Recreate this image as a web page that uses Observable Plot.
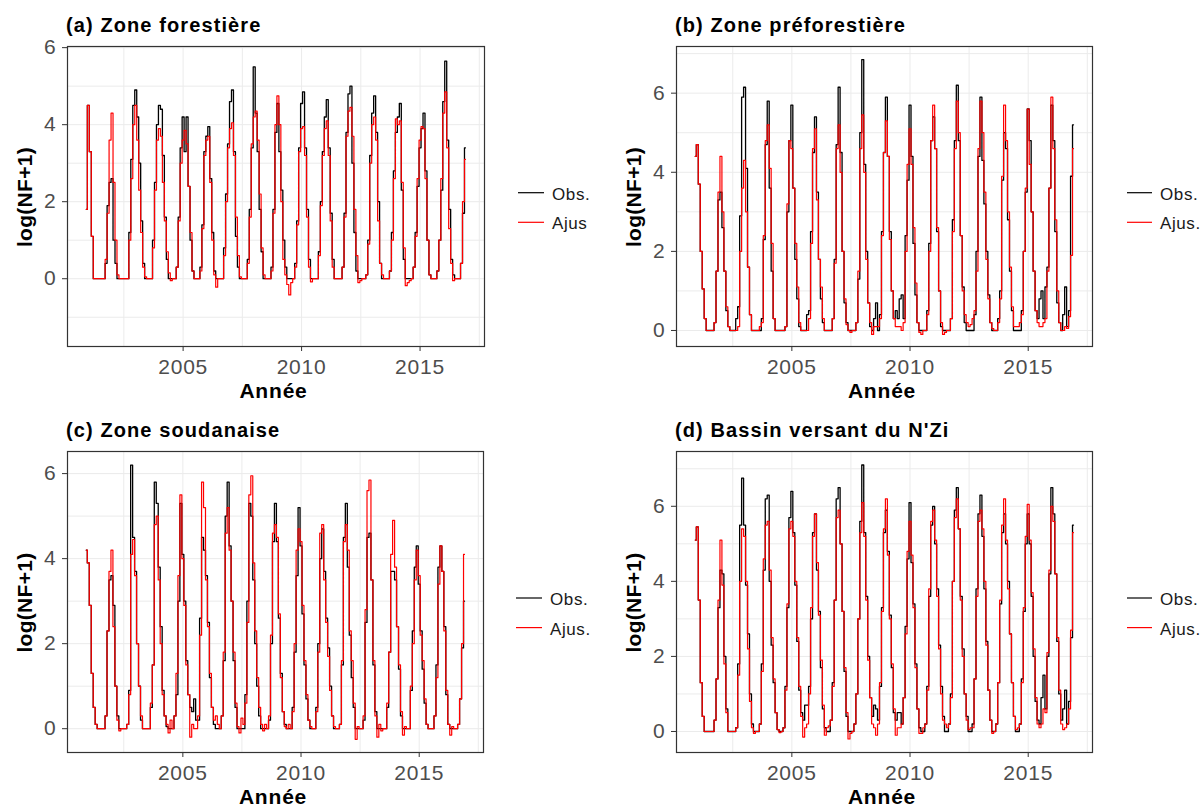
<!DOCTYPE html>
<html><head><meta charset="utf-8">
<script src="https://cdn.jsdelivr.net/npm/d3@7"></script>
<script src="https://cdn.jsdelivr.net/npm/@observablehq/plot@0.6"></script>
<style>
html,body{margin:0;padding:0;background:#fff;}
#root{position:relative;width:1201px;height:808px;overflow:hidden;font-family:"Liberation Sans",Arial,sans-serif;}
.panel{position:absolute;}
#overlay{position:absolute;left:0;top:0;pointer-events:none;}
.panel svg g[aria-label$="axis tick label"] text{letter-spacing:0.8px;}
</style></head><body><div id="root"></div>
<script>
// Monthly series, first value = December 2000, then Jan..Dec for 2001..2016
const startYear = 2000, startMonthIndex = 11;

const obsA = [
1.8,
4.5,3.3,1.1,0,0,0,0,0,0,0.4,1.9,2.5,
2.6,1.0,0.4,0,0,0,0,0,0,1.2,3.1,4.5,
4.9,4.2,3.0,1.5,0.4,0,0,0,0,1.0,2.5,4.0,
4.5,4.4,3.2,1.6,0.5,0,0,0,0,0.3,1.6,3.4,
4.2,3.3,4.2,2.4,1.0,0.2,0,0,0,0.3,1.4,3.3,
3.7,3.95,2.6,1.2,0.2,0,0,0,0,0.8,2.2,3.5,
4.6,4.9,3.3,1.1,0.3,0,0,0,0,0.5,1.8,3.4,
5.5,4.3,3.3,1.8,0.7,0,0,0,0,0.3,1.8,3.8,
4.55,3.3,2.3,1.0,0.3,0,0,0,0,0.4,1.5,3.4,
4.55,4.85,3.4,1.8,0.5,0,0,0,0,0.7,2.0,3.3,
4.2,4.65,3.4,1.7,0.5,0,0,0,0,0.3,1.7,3.8,
4.8,5.0,3.0,1.2,0.2,0,0,0,0,0.1,1.0,3.2,
4.3,4.75,3.8,2.0,0.4,0,0,0,0,0.2,1.2,2.8,
3.8,4.2,4.55,2.3,0.5,0,0,0,0,0.3,1.2,2.4,
3.4,3.9,4.3,2.8,1.0,0.1,0,0,0,0.2,1.0,2.3,
4.6,5.65,3.6,1.8,0.5,0.1,0,0,0,0.4,1.7,3.4
];
const fitA = [
1.8,
4.5,3.3,1.1,0,0,0,0,0,0,0.5,1.7,3.6,
4.3,2.5,1.0,0.1,0,0,0,0,0,1.0,2.6,4.0,
4.5,3.6,2.3,1.2,0.3,0.05,0,0,0,0.8,2.3,3.6,
3.9,3.7,2.5,1.5,0.7,0.15,-0.05,0,0,0.3,1.5,3.0,
3.6,3.85,3.5,2.4,1.2,0.2,0,0,0,0.2,1.3,3.2,
3.6,3.7,2.5,1.0,0.1,-0.22,0,0,0,0.6,2.0,3.4,
3.9,4.05,3.2,1.6,0.6,0.05,0,0,0,0.4,1.6,3.5,
4.2,4.35,3.6,2.2,0.8,0.1,0,0,0,0.2,1.7,4.0,
4.75,4.0,2.0,0.5,0.1,-0.15,-0.42,-0.1,0,0.3,1.4,3.3,
3.9,3.95,3.2,1.6,0.3,-0.08,0,0,0,0.6,1.9,3.2,
3.9,4.1,3.2,1.5,0.3,0,0,0,0,0.3,1.6,3.7,
4.35,4.45,3.7,1.8,0.6,-0.1,-0.05,0,0,0.1,0.9,3.0,
4.0,4.2,3.6,1.5,0.4,0.1,0,0,0,0.2,1.0,2.6,
4.15,4.0,4.1,2.5,0.8,-0.18,-0.1,-0.05,0,0.3,1.1,2.6,
3.6,3.95,3.9,2.6,1.0,0.1,0,0,0,0.2,1.0,2.6,
4.3,4.85,3.4,1.3,0.4,-0.05,0,0,0,0.4,2.0,3.1
];

const obsB = [
4.4,
4.7,3.7,2.0,1.05,0.3,0,0,0,0,0.2,1.5,3.3,
3.5,2.6,1.5,0.5,0.1,0,0,0,0.3,0.6,2.9,5.9,
6.15,4.1,1.6,0.4,0,0,0,0,0,0.3,2.3,4.7,
5.8,3.6,1.5,0.3,0,0,0,0,0,0.1,3.0,4.8,
5.7,3.6,1.8,0.8,0.1,0,0,0,0.4,0.5,2.5,4.5,
5.4,3.5,1.8,0.8,0.2,0,0,0,0,0.3,1.8,4.7,
6.15,4.5,2.0,0.7,0.2,0,0,0,0,0.2,1.3,5.0,
6.85,4.2,2.0,0.7,0.1,0,0.3,0.7,0,0.4,2.5,4.5,
5.9,4.4,2.5,1.0,0.3,0.5,0.3,0.8,0.9,0.3,2.4,3.8,
5.7,4.4,2.2,0.9,0.2,0,0,0,0,0.5,2.2,4.8,
5.4,4.6,2.5,1.0,0.1,0,0,0,0,0.3,2.8,4.8,
6.2,4.8,2.4,1.1,0.2,0,0,0,0,0.4,2.0,4.4,
5.9,4.3,3.2,2.0,0.9,0.2,0,0,0,0.3,1.0,3.8,
5.0,4.6,2.8,1.5,0.5,0,0,0,0,0.5,2.0,3.5,
5.6,4.8,3.0,1.5,0.5,0.3,0.8,1.0,0.3,1.1,1.6,3.6,
5.7,4.8,2.5,0.7,0.2,0,0.4,1.1,0.1,0.5,3.9,5.2
];
const fitB = [
4.4,
4.7,3.7,2.0,1.05,0.3,0,0,0,0,0.2,1.5,3.5,
4.4,3.0,1.5,0.6,0.1,0,0,0,0,0.1,2.0,3.6,
4.3,3.0,1.6,0.4,0,0,0,0,0.1,0.2,2.4,4.8,
5.2,4.1,2.2,0.3,0,0,0,0,0,0.1,3.2,4.8,
4.6,3.6,2.2,1.1,0.2,0,0,0,0,0.3,2.2,4.6,
5.1,3.3,1.8,1.1,0.3,0,0,0,0,0.3,1.7,4.6,
5.2,4.0,2.0,0.8,0.15,0,-0.05,0,0,0.2,1.5,4.6,
5.45,4.0,1.8,0.7,0.2,-0.1,0.1,0.1,0.1,0.3,2.4,4.5,
5.3,4.4,2.3,1.0,0.3,0.1,0.1,0.1,0,0.2,2.0,4.2,
5.1,4.2,2.6,1.2,0.2,-0.05,-0.1,0,0,0.4,2.0,4.8,
5.7,4.6,2.6,1.0,0.2,-0.1,-0.05,0,0,0.3,2.5,4.6,
5.8,5.0,2.4,1.0,0.4,0.2,0.1,0.15,0.3,0.5,1.5,4.6,
5.8,5.0,3.5,1.8,0.8,0.2,0.05,0,0,0.2,0.8,3.9,
5.7,4.8,3.0,1.6,0.6,0.1,0.1,0.1,0.2,0.4,2.0,3.6,
5.6,4.2,3.0,1.5,0.5,0.2,0.1,0.1,0.2,0.3,1.5,3.6,
5.9,4.6,2.8,1.0,0.2,0,0,0.1,0.05,0.35,1.9,4.6
];

const obsC = [
4.2,
3.9,2.9,1.3,0.5,0.1,0,0,0,0,0.3,2.3,3.5,
3.6,2.9,1.0,0.3,0,0,0,0,0.1,0.9,6.2,4.5,
3.7,2.0,1.0,0.2,0,0,0,0,0.5,1.5,5.8,5.3,
3.8,2.4,0.9,0.3,0.05,0,0,0,0.3,0.8,3.0,5.3,
4.1,3.0,1.6,0.8,0.5,0.4,0.7,0.2,0.2,2.6,4.5,4.2,
3.6,2.5,1.2,0.5,0.1,0,0,0,0.3,1.6,5.0,5.8,
4.3,3.0,1.6,0.5,0,0,0,0,0.8,3.0,5.3,5.0,
3.5,2.0,1.0,0.3,0,0,0,0,0.2,2.0,4.4,5.3,
4.4,2.6,1.3,0.4,0.1,0,0,0,0.5,1.8,3.6,5.2,
4.3,2.7,1.5,0.7,0.2,0,0,0,0.5,2.0,4.0,4.7,
3.7,2.6,1.9,1.0,0.3,0,0,0,0.1,1.5,4.5,5.3,
3.8,2.2,1.2,0.5,0,0,0,0,0.2,2.5,4.5,4.6,
3.5,1.5,0.4,0,0,0,0,0,0.5,1.8,3.7,3.7,
3.5,2.4,1.4,0.3,0,0,0,0,0.9,2.3,3.8,4.3,
3.4,2.3,1.4,0.6,0.1,0,0,0,0.3,1.5,3.8,4.3,
3.7,2.4,0.8,0.1,0,0,0,0,0.1,0.7,1.9,3.0
];
const fitC = [
4.2,
3.9,2.9,1.3,0.5,0.1,0,0,0,0,0.3,2.3,3.7,
4.2,2.4,1.0,0.2,-0.05,0,0,0,0.1,0.8,4.1,4.45,
3.6,2.0,1.0,0.3,0,0,0,0,0.6,1.5,4.8,5.0,
3.5,2.0,0.8,0.3,0.1,-0.1,0.2,0,0.3,1.3,3.6,5.5,
4.0,2.9,1.5,0.8,-0.2,0.1,0,0,0.3,2.2,5.8,5.2,
3.5,2.4,1.3,0.5,0.2,0.3,0.1,0,0.3,1.8,4.6,5.2,
4.2,3.0,1.8,0.6,0.05,-0.1,0.25,0.1,0.6,2.5,5.5,5.95,
3.9,2.3,1.2,0.5,0.1,-0.05,0.1,0,0.3,2.2,4.6,4.8,
4.5,2.7,1.2,0.4,0.05,0,0.1,0,0.4,2.0,4.2,4.7,
4.4,2.9,1.6,0.8,0.2,0.05,0,0,0.4,1.8,4.6,4.8,
3.5,2.5,1.7,0.9,0.3,0.05,0,0,0.1,1.6,4.4,4.8,
4.2,2.3,1.6,0.6,-0.25,0.05,0,0,0.3,2.8,5.6,5.85,
3.5,1.6,0.3,-0.2,0.1,-0.05,0,0,0.6,1.8,4.1,4.9,
3.8,2.4,1.5,0.4,-0.15,0.05,0,0,1.0,2.0,3.5,4.2,
3.6,2.2,1.6,0.7,0.1,0,0,0,0.3,1.2,3.4,4.3,
3.7,2.3,0.9,0.1,-0.15,0.05,0,0,0.1,0.7,2.0,4.1
];

const obsD = [
5.1,
5.45,3.5,1.3,0.4,0,0,0,0,0,0.3,1.4,3.3,
4.3,4.2,2.0,0.6,0,0,0,0,0.1,1.8,5.5,6.75,
5.5,3.9,2.6,1.0,0.2,0,0,0,0.2,1.8,4.3,6.2,
6.3,4.0,2.3,1.3,0.5,0.05,0,0,0.1,1.2,3.3,5.7,
6.4,5.3,3.9,2.4,1.1,0.5,0.3,0.7,0.7,1.2,3.0,5.3,
5.8,4.3,3.2,1.7,0.6,0.1,0,0,0.3,1.3,3.5,6.2,
6.5,5.0,3.2,1.6,0.4,0,0,0,0.2,1.0,3.0,5.6,
7.1,5.3,3.6,2.0,0.9,0.4,0.7,0.6,0.3,1.2,3.3,5.3,
5.9,4.8,3.1,1.7,0.5,0.3,0.5,0.5,0.2,0.9,2.8,4.6,
6.1,4.5,3.4,1.8,0.6,0.1,0,0,0.2,1.2,3.6,5.5,
6.0,5.0,3.8,2.3,1.2,0.4,0,0,0.2,1.0,4.0,5.9,
6.5,5.4,3.6,2.2,1.0,0.4,0,0,0.2,1.4,3.8,5.8,
6.3,5.2,3.8,2.4,1.1,0.3,0,0,0.2,1.3,3.4,5.3,
5.8,5.0,4.0,2.6,1.3,0.4,0,0,0.2,1.4,3.2,5.0,
5.8,5.0,3.6,2.0,0.8,0.3,0.2,0.9,1.5,0.6,2.0,4.2,
6.5,5.8,4.2,2.4,1.0,0.3,0.6,1.1,0.2,0.8,2.5,5.5
];
const fitD = [
5.1,
5.45,3.5,1.3,0.4,0,0,0,0,0,0.3,1.4,3.5,
5.1,3.9,1.8,0.5,0,0,0,0,0.1,1.5,4.0,5.4,
5.2,4.0,2.2,0.8,0.1,-0.05,0,0,0.2,1.6,4.6,5.5,
5.6,4.3,2.5,1.4,0.5,0.05,-0.03,0,0.1,1.1,3.4,5.4,
5.6,5.2,4.0,2.5,1.2,0.4,-0.15,0.1,0.2,1.0,3.3,5.2,
5.8,4.5,3.1,1.9,0.7,-0.1,0.1,0.15,0.3,1.2,3.5,5.7,
5.9,5.0,3.2,1.7,0.5,-0.2,-0.05,0,0.2,1.0,3.0,5.3,
6.1,5.2,3.5,1.9,0.9,0.2,0.1,-0.1,0.2,1.3,3.2,5.4,
6.2,4.7,3.0,1.8,0.6,-0.1,0.1,0.1,0.2,0.9,2.6,4.8,
5.6,4.7,3.3,1.7,0.6,-0.05,-0.05,0.1,0.2,1.1,3.8,5.6,
5.9,5.1,3.6,2.2,1.0,0.3,0.2,0.1,0.2,0.9,4.0,5.7,
6.2,5.4,3.5,2.0,1.0,0.3,0.05,0.1,0.1,1.4,3.6,5.6,
5.9,5.4,4.0,2.3,1.1,0.3,-0.05,0,0.2,1.3,3.5,5.5,
6.2,5.1,3.8,2.6,1.3,0.4,0.05,0.1,0.2,1.3,3.3,5.2,
6.05,5.1,3.7,2.2,0.9,0.2,0.1,0.2,0.6,0.5,2.1,4.3,
6.0,5.6,4.2,2.5,1.1,0.2,0.05,0.1,0.2,0.6,2.7,5.3
];

const panelTitles = ["(a) Zone forestière", "(b) Zone préforestière", "(c) Zone soudanaise", "(d) Bassin versant du N'Zi"];
const seriesNames = ["Obs.", "Ajus."];
const legendLabelsA = ["Obs.", "Ajus"];
const xTitle = "Année";
const yTitle = "log(NF+1)";
const xTicks = [2005, 2010, 2015];
const xGrid = [2002.5, 2005, 2007.5, 2010, 2012.5, 2015, 2017.5];
const yTicks = [0, 2, 4, 6];
const xDomain = [2000.12, 2017.72];
const yDomains = [[-1.76, 6.03], [-0.405, 7.18], [-0.56, 6.52], [-0.56, 7.46]];
const yGrids = [[-1,0,1,2,3,4,5,6], [0,1,2,3,4,5,6,7], [0,1,2,3,4,5,6], [0,1,2,3,4,5,6,7]];

const seriesObs = [obsA, obsB, obsC, obsD];
const seriesFit = [fitA, fitB, fitC, fitD];
const colors = {"Obs.": "#000000", "Ajus.": "#ff0000"};

function toRows(values) {
  return values.map((v, i) => ({t: startYear + (startMonthIndex + i) / 12, v}));
}

// layout
const boxes = [
  {left: 0,   top: 0,   width: 500, height: 410, ml: 67, mr: 16, mt: 46, mb: 64},
  {left: 600, top: 0,   width: 501, height: 410, ml: 76, mr: 9,  mt: 46, mb: 64},
  {left: 0,   top: 405, width: 500, height: 403, ml: 67, mr: 17, mt: 46, mb: 56},
  {left: 600, top: 405, width: 501, height: 403, ml: 76, mr: 9,  mt: 46, mb: 56}
];
const legendPos = [
  {x1: 518, x2: 544, tx: 552, y: 192.7},
  {x1: 1127, x2: 1152, tx: 1160, y: 192.7},
  {x1: 516, x2: 542, tx: 550, y: 598},
  {x1: 1127, x2: 1152, tx: 1160, y: 598}
];

const root = document.getElementById("root");
const FONT = "'Liberation Sans', Arial, sans-serif";

boxes.forEach((b, k) => {
  const chart = Plot.plot({
    width: b.width, height: b.height,
    marginLeft: b.ml, marginRight: b.mr, marginTop: b.mt, marginBottom: b.mb,
    style: {background: "transparent", fontFamily: FONT, overflow: "visible"},
    x: {domain: xDomain},
    y: {domain: yDomains[k]},
    marks: [
      Plot.gridY({ticks: yGrids[k], stroke: "#ebebeb", strokeOpacity: 1, strokeWidth: 1}),
      Plot.gridX({ticks: xGrid, stroke: "#ebebeb", strokeOpacity: 1, strokeWidth: 1}),
      Plot.line(toRows(seriesObs[k]), {x: "t", y: "v", curve: "step", stroke: colors["Obs."], strokeWidth: 1.3}),
      Plot.line(toRows(seriesFit[k]), {x: "t", y: "v", curve: "step", stroke: colors["Ajus."], strokeWidth: 1.2}),
      Plot.frame({stroke: "#333333", strokeWidth: 1.2}),
      Plot.axisX({ticks: xTicks, tickSize: 5, tickPadding: 8, fontSize: 21, stroke: "#333333", fill: "#4d4d4d", label: null, tickFormat: d => String(d)}),
      Plot.axisY({ticks: yTicks, tickSize: 5, tickPadding: 6, fontSize: 21, stroke: "#333333", fill: "#4d4d4d", label: null, tickFormat: d => String(d)})
    ]
  });
  const div = document.createElement("div");
  div.className = "panel";
  div.style.left = b.left + "px";
  div.style.top = b.top + "px";
  div.appendChild(chart);
  root.appendChild(div);
});

// overlay: titles, axis titles, legends
const svg = d3.select(root).append("svg").attr("id", "overlay")
  .attr("width", 1201).attr("height", 808).style("font-family", FONT);

boxes.forEach((b, k) => {
  const fx0 = b.left + b.ml, fx1 = b.left + b.width - b.mr;
  const fy0 = b.top + b.mt, fy1 = b.top + b.height - b.mb;
  svg.append("text").attr("x", fx0 - 1).attr("y", fy0 - 14.5)
    .attr("font-size", 20).attr("letter-spacing", "1.1px").attr("font-weight", "bold").attr("fill", "#000").text(panelTitles[k]);
  svg.append("text").attr("x", (fx0 + fx1) / 2 - 2).attr("y", fy1 + 52)
    .attr("text-anchor", "middle").attr("font-size", 21).attr("letter-spacing", "0.8px").attr("font-weight", "bold").attr("fill", "#000").text(xTitle);
  const cy = (fy0 + fy1) / 2 + 1;
  svg.append("text").attr("transform", `translate(${b.left + (k % 2 ? 33 : 24)},${cy}) rotate(-90)`)
    .attr("text-anchor", "middle").attr("dominant-baseline", "central")
    .attr("font-size", 21).attr("letter-spacing", "0.3px").attr("font-weight", "bold").attr("fill", "#000").text(yTitle);
  const lp = legendPos[k];
  const labels = k === 0 ? legendLabelsA : seriesNames;
  seriesNames.forEach((s, j) => {
    const y = lp.y + j * 29.6;
    svg.append("line").attr("x1", lp.x1).attr("x2", lp.x2).attr("y1", y).attr("y2", y)
      .attr("stroke", colors[s]).attr("stroke-width", 1.2);
    svg.append("text").attr("x", lp.tx).attr("y", y + 7).attr("font-size", 17).attr("letter-spacing", "0.6px").attr("fill", "#1a1a1a").text(labels[j]);
  });
});
</script></body></html>
